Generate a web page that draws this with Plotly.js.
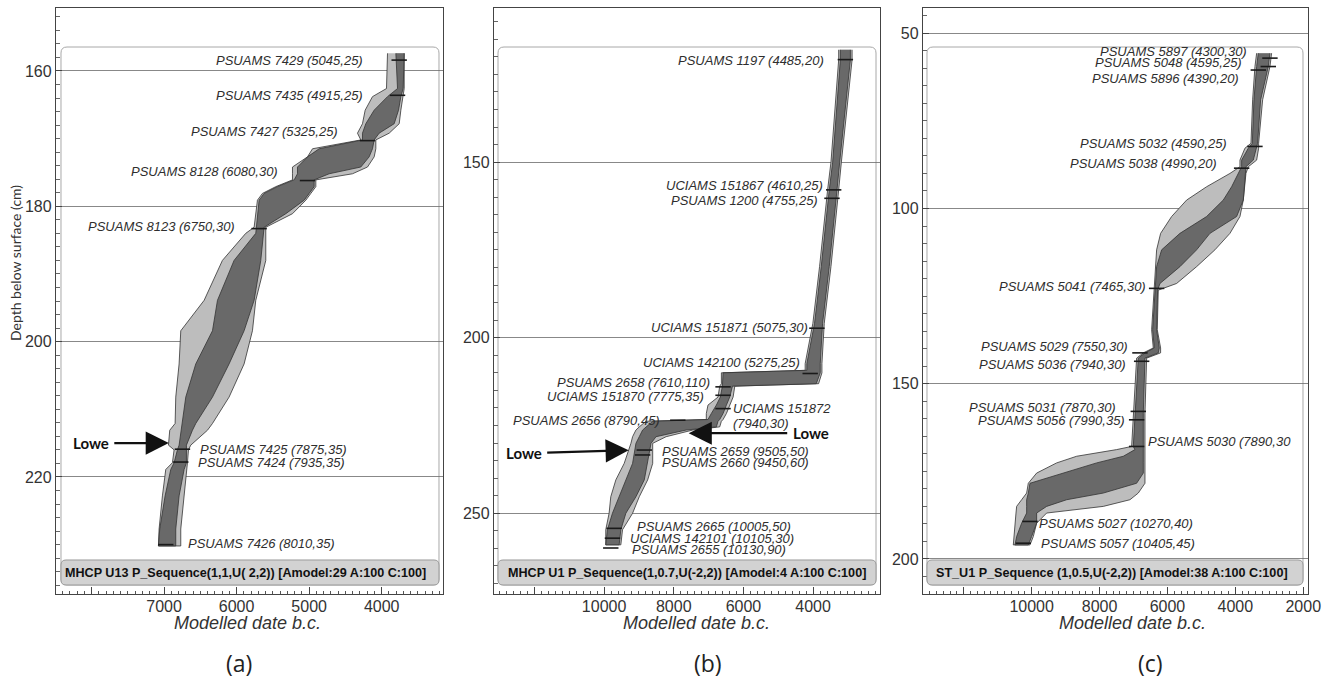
<!DOCTYPE html>
<html>
<head>
<meta charset="utf-8">
<script src="https://cdn.plot.ly/plotly-3.0.1.min.js"></script>
<style>html,body{margin:0;padding:0;background:#fff;}#chart{width:1328px;height:681px;}</style>
</head>
<body>
<div id="chart"></div>
<script>
// ---------------- DATA ----------------
// Panel (a) MHCP U13 : depth (cm) and modelled date envelopes (years b.c.)
const depthA = [157.4,162.6,163.8,165.8,167.8,169.2,170.2,171.5,172.7,174.2,175.2,176.1,177.1,178.1,179.1,181.1,183.1,184.0,188.0,193.9,198.4,203.3,208.2,212.1,213.1,215.3,216.0,217.9,218.9,222.8,227.7,230.2];
const outerOldA = [3920,3934,4127,4228,4265,4334,4288,4954,5023,5230,5230,5230,5460,5644,5713,5736,5759,5874,6196,6448,6770,6793,6839,6848,6922,6940,6862,6885,6977,7023,7069,7078];
const outerYoungA = [3690,3690,3704,3736,3759,3897,4081,4081,4104,4196,4403,4908,4908,4977,5046,5230,5598,5598,5598,5736,5782,5897,6104,6333,6402,6632,6664,6678,6678,6724,6770,6770];
const innerOldA = [3805,3782,3920,4104,4219,4265,4265,4862,5023,5161,5161,5207,5437,5621,5690,5713,5727,5736,6035,6264,6333,6563,6701,6756,6770,6793,6816,6862,6908,6986,7060,7078];
const innerYoungA = [3690,3704,3736,3768,3828,4035,4104,4127,4173,4288,4725,4931,4931,5000,5069,5322,5621,5621,5667,5759,5897,6104,6333,6563,6609,6692,6692,6692,6724,6793,6839,6839];
const smpDateA = [3759,3782,4196,5023,5690,6747,6770,6977];
const smpDepthA = [158.4,163.6,170.3,176.2,183.3,215.9,217.8,230.0];
const labA = ['PSUAMS 7429 (5045,25)','PSUAMS 7435 (4915,25)','PSUAMS 7427 (5325,25)','PSUAMS 8128 (6080,30)','PSUAMS 8123 (6750,30)','PSUAMS 7425 (7875,35)','PSUAMS 7424 (7935,35)','PSUAMS 7426 (8010,35)'];
const labDateA = [4242,4242,4587,5414,6012,6517,6540,6678];
const labDepthA = [158.4,163.6,169.0,174.9,183.0,215.9,217.8,229.8];
const labSideA = ['right','right','right','right','right','left','left','left'];
const xTickValsA = [8000,7000,6000,5000,4000];
const xTickTextA = ['','7000','6000','5000','4000'];

// Panel (b) MHCP U1
const depthB = [118.0,120.8,150.0,157.9,179.7,195.9,207.4,209.3,210.0,213.1,213.8,216.9,219.2,221.6,223.3,223.8,225.4,226.3,228.2,230.1,235.8,240.5,245.3,250.0,254.7,259.0];
const outerOldB = [3266,3266,3487,3584,3814,4007,4228,4228,6633,6633,6681,6729,7018,7066,7066,8798,8990,9086,9182,9230,9423,9663,9808,9856,9952,9952];
const outerYoungB = [2881,2881,3189,3266,3487,3680,3747,3747,3747,3843,6248,6296,6393,6489,6585,6633,6681,7451,8220,8605,8605,8749,8990,9182,9471,9519];
const innerOldB = [3218,3218,3439,3536,3766,3959,4180,4180,6585,6585,6604,6662,6777,6922,7018,8605,8798,8894,8990,9086,9182,9375,9567,9760,9904,9952];
const innerYoungB = [2929,2929,3237,3314,3536,3728,3795,3795,3795,3910,6315,6393,6489,6585,6681,6729,6777,7643,8509,8653,8749,8846,9086,9375,9519,9567];
const smpDateB = [3074,3410,3458,3891,4084,6585,6585,6585,7884,8846,8894,9711,9760,9808];
const smpDepthB = [120.8,157.9,160.3,197.3,210.2,214.0,216.4,220.2,223.5,232.0,233.4,254.3,257.1,259.9];
const labB = ['PSUAMS 1197 (4485,20)','UCIAMS 151867 (4610,25)','PSUAMS 1200 (4755,25)','UCIAMS 151871 (5075,30)','UCIAMS 142100 (5275,25)','PSUAMS 2658 (7610,110)','UCIAMS 151870 (7775,35)','PSUAMS 2656 (8790,45)','UCIAMS 151872','(7940,30)','PSUAMS 2659 (9505,50)','PSUAMS 2660 (9450,60)','PSUAMS 2665 (10005,50)','UCIAMS 142101 (10105,30)','PSUAMS 2655 (10130,90)'];
const labDateB = [3651,3699,3843,4132,4353,6922,7114,8365,6316,6316,8365,8365,9086,9278,9230];
const labDepthB = [121.0,156.6,161.0,197.0,207.1,212.9,216.7,223.5,220.2,224.4,232.5,235.6,253.8,257.1,260.4];
const labSideB = ['right','right','right','right','right','right','right','right','left','left','left','left','left','left','left'];
const xTickValsB = [12000,10000,8000,6000,4000];
const xTickTextB = ['','10000','8000','6000','4000'];

// Panel (c) ST_U1
const depthC = [55.7,59.5,69.0,81.4,82.8,86.2,88.1,90.0,93.8,97.6,102.3,107.1,111.8,116.6,121.4,123.3,134.6,139.8,141.2,142.7,158.4,167.9,168.8,170.7,172.6,175.5,178.4,181.2,183.1,185.0,186.9,189.8,193.6,196.0];
const outerOldC = [3373,3423,3491,3540,3717,3864,3864,4159,4846,5435,5877,6201,6319,6349,6368,6387,6466,6417,6711,6908,7006,7055,7497,8675,9264,9853,10098,10147,10295,10442,10461,10491,10520,10540];
const outerYoungC = [2932,2981,3196,3314,3314,3373,3619,3688,3717,3766,3864,4159,4601,5141,5730,6270,6300,6201,6201,6613,6662,6662,6662,6662,6662,6662,6662,6859,7104,7889,9558,9853,9951,10049];
const innerOldC = [3324,3373,3452,3501,3619,3815,3815,3913,4110,4355,4846,5632,6171,6319,6349,6368,6436,6387,6662,6859,6957,7006,6957,7300,8086,9067,10049,10098,10147,10147,10147,10295,10442,10491];
const innerYoungC = [2981,3030,3255,3344,3373,3472,3688,3717,3737,3766,3962,4748,5141,5632,6220,6290,6319,6240,6270,6662,6711,6711,6711,6711,6711,6711,6908,7889,8969,9558,9853,9853,10000,10098];
const smpDateC = [2981,3030,3324,3423,3815,6319,6810,6760,6859,6908,6908,10049,10245];
const smpDepthC = [57.1,59.5,60.5,82.3,88.5,122.8,141.2,143.6,157.9,160.3,167.9,189.3,195.5];
const labC = ['PSUAMS 5897 (4300,30)','PSUAMS 5048 (4595,25)','PSUAMS 5896 (4390,20)','PSUAMS 5032 (4590,25)','PSUAMS 5038 (4990,20)','PSUAMS 5041 (7465,30)','PSUAMS 5029 (7550,30)','PSUAMS 5036 (7940,30)','PSUAMS 5031 (7870,30)','PSUAMS 5056 (7990,35)','PSUAMS 5030 (7890,30','PSUAMS 5027 (10270,40)','PSUAMS 5057 (10405,45)'];
const labDateC = [3619,3766,3864,4208,4503,6613,7124,7183,7497,7222,6594,9804,9755];
const labDepthC = [55.2,58.4,62.8,81.6,87.1,122.3,139.5,144.6,156.9,160.6,166.5,189.8,195.7];
const labSideC = ['right','right','right','right','right','right','right','right','right','right','left','left','left'];
const xTickValsC = [12000,10000,8000,6000,4000,2000];
const xTickTextC = ['','10000','8000','6000','4000','2000'];

const modelTitles = ['MHCP U13 P_Sequence(1,1,U( 2,2)) [Amodel:29 A:100 C:100]',
                     'MHCP U1 P_Sequence(1,0.7,U(-2,2)) [Amodel:4 A:100 C:100]',
                     'ST_U1 P_Sequence (1,0.5,U(-2,2)) [Amodel:38 A:100 C:100]'];
const panelLetters = ['(a)','(b)','(c)'];
const lowe = 'Lowe';

// ---------------- BUILD ----------------
const W = 1328, H = 681;
const LIGHT = '#bdbdbd', DARK = '#696969', EDGE = '#333333';
const TXT = '#2e2e2e';

function envelope(depth, oldArr, youngArr, color, xa, ya) {
  return {
    type: 'scatter', mode: 'lines', xaxis: xa, yaxis: ya,
    x: oldArr.concat(youngArr.slice().reverse()),
    y: depth.concat(depth.slice().reverse()),
    fill: 'toself', fillcolor: color,
    line: {color: EDGE, width: 0.8}, hoverinfo: 'skip'
  };
}
function samples(d, dep, xa, ya) {
  return {type: 'scatter', mode: 'markers', xaxis: xa, yaxis: ya, x: d, y: dep,
    marker: {symbol: 'line-ew-open', size: 11, color: '#1a1a1a', line: {color: '#1a1a1a', width: 1.6}}, hoverinfo: 'skip'};
}

const traces = [
  envelope(depthA, outerOldA, outerYoungA, LIGHT, 'x', 'y'),
  envelope(depthA, innerOldA, innerYoungA, DARK, 'x', 'y'),
  samples(smpDateA, smpDepthA, 'x', 'y'),
  envelope(depthB, outerOldB, outerYoungB, LIGHT, 'x2', 'y2'),
  envelope(depthB, innerOldB, innerYoungB, DARK, 'x2', 'y2'),
  samples(smpDateB, smpDepthB, 'x2', 'y2'),
  envelope(depthC, outerOldC, outerYoungC, LIGHT, 'x3', 'y3'),
  envelope(depthC, innerOldC, innerYoungC, DARK, 'x3', 'y3'),
  samples(smpDateC, smpDepthC, 'x3', 'y3')
];

const tickFont = {family: 'Liberation Sans, Arial, sans-serif', size: 16, color: '#333'};
function xAxis(domain, range, tv, tt, minorDt, anchor) {
  return {domain: domain, range: range, anchor: anchor, tickmode: 'array', tickvals: tv, ticktext: tt,
    ticks: 'inside', ticklen: 7, tickcolor: '#444', tickwidth: 1, showgrid: false, zeroline: false,
    showline: true, linecolor: '#444', linewidth: 1.2, mirror: true, tickfont: tickFont, ticklabelstandoff: -2,
    minor: {tickmode: 'linear', tick0: 0, dtick: minorDt, ticks: 'inside', ticklen: 3, tickcolor: '#555', showgrid: false}};
}
function yAxis(domain, range, dt, minorDt, anchor) {
  return {domain: domain, range: range, anchor: anchor, tickmode: 'linear', tick0: 0, dtick: dt,
    ticks: 'inside', ticklen: 6, tickcolor: '#444', showgrid: true, gridcolor: '#6a6a6a', gridwidth: 0.8,
    zeroline: false, showline: true, linecolor: '#444', linewidth: 1.2, mirror: true, tickfont: tickFont,
    minor: {tickmode: 'linear', tick0: 0, dtick: minorDt, ticks: 'inside', ticklen: 4, tickcolor: '#666', showgrid: false}};
}
const yDom = [1 - 594 / H, 1 - 8 / H];
const layout = {
  width: W, height: H, margin: {l: 0, r: 0, t: 0, b: 0},
  paper_bgcolor: '#fff', plot_bgcolor: '#fff', showlegend: false,
  xaxis: xAxis([56 / W, 443 / W], [8490, 3155], xTickValsA, xTickTextA, 100, 'y'),
  yaxis: yAxis(yDom, [237.3, 150.7], 20, 2, 'x'),
  xaxis2: xAxis([494 / W, 880 / W], [13160, 2080], xTickValsB, xTickTextB, 200, 'y2'),
  yaxis2: yAxis(yDom, [273.0, 106.1], 50, 5, 'x2'),
  xaxis3: xAxis([923 / W, 1308 / W], [13200, 1860], xTickValsC, xTickTextC, 200, 'y3'),
  yaxis3: yAxis(yDom, [210.0, 42.8], 50, 5, 'x3'),
  shapes: [], annotations: []
};

// rounded boxes (pixel -> paper)
function rr(x0, y0, x1, y1, r) {
  const X = v => (v / W).toFixed(5), Y = v => (1 - v / H).toFixed(5);
  return `M${X(x0 + r)},${Y(y0)} L${X(x1 - r)},${Y(y0)} Q${X(x1)},${Y(y0)} ${X(x1)},${Y(y0 + r)} ` +
         `L${X(x1)},${Y(y1 - r)} Q${X(x1)},${Y(y1)} ${X(x1 - r)},${Y(y1)} L${X(x0 + r)},${Y(y1)} ` +
         `Q${X(x0)},${Y(y1)} ${X(x0)},${Y(y1 - r)} L${X(x0)},${Y(y0 + r)} Q${X(x0)},${Y(y0)} ${X(x0 + r)},${Y(y0)} Z`;
}
const boxes = [[61, 439], [498, 876], [927, 1303]];
const bandCenters = [245, 687, 1112];
const xTitleCenters = [247, 696, 1132];
const letterCenters = [239, 708, 1150];
boxes.forEach((b, i) => {
  layout.shapes.push({type: 'path', xref: 'paper', yref: 'paper', layer: 'below', path: rr(b[0], 47, b[1], 585, 6),
    line: {color: '#a8a8a8', width: 1}, fillcolor: 'rgba(0,0,0,0)'});
  layout.shapes.push({type: 'path', xref: 'paper', yref: 'paper', layer: 'above', path: rr(b[0], 560, b[1], 585, 5),
    line: {color: '#9a9a9a', width: 1}, fillcolor: '#d2d2d2'});
  layout.annotations.push({xref: 'paper', yref: 'paper', x: bandCenters[i] / W, y: 1 - 572.5 / H, text: modelTitles[i],
    showarrow: false, xanchor: 'center', yanchor: 'middle',
    font: {family: 'Liberation Sans, Arial, sans-serif', size: 12.6, color: '#111', weight: 'bold'}});
  layout.annotations.push({xref: 'paper', yref: 'paper', x: xTitleCenters[i] / W, y: 1 - 623 / H, text: 'Modelled date b.c.',
    showarrow: false, xanchor: 'center', yanchor: 'middle',
    font: {family: 'Liberation Sans, Arial, sans-serif', size: 18, color: '#333', style: 'italic'}});
  layout.annotations.push({xref: 'paper', yref: 'paper', x: letterCenters[i] / W, y: 1 - 663 / H, text: panelLetters[i],
    showarrow: false, xanchor: 'center', yanchor: 'middle',
    font: {family: 'Open Sans, Lato, sans-serif', size: 23, color: '#222'}});
});
layout.annotations.push({xref: 'paper', yref: 'paper', x: 15 / W, y: 1 - 263 / H, text: 'Depth below surface (cm)',
  textangle: -90, showarrow: false, xanchor: 'center', yanchor: 'middle',
  font: {family: 'Lato, Open Sans, sans-serif', size: 14, color: '#333'}});

function addLabels(txt, dd, dep, side, xa, ya) {
  txt.forEach((t, i) => {
    layout.annotations.push({xref: xa, yref: ya, x: dd[i], y: dep[i], text: t, showarrow: false,
      xanchor: side[i], yanchor: 'middle', borderpad: 0,
      font: {family: 'Liberation Sans, Arial, sans-serif', size: 13, color: TXT, style: 'italic'}});
  });
}
addLabels(labA, labDateA, labDepthA, labSideA, 'x', 'y');
addLabels(labB, labDateB, labDepthB, labSideB, 'x2', 'y2');
addLabels(labC, labDateC, labDepthC, labSideC, 'x3', 'y3');

// Lowe arrows (head in data coords, tail offset in px)
function loweArrow(xa, ya, x, y, ax, ay) {
  layout.annotations.push({xref: xa, yref: ya, x: x, y: y, ax: ax, ay: ay, text: lowe, showarrow: true,
    arrowhead: 2, arrowsize: 2.1, arrowwidth: 2.2, arrowcolor: '#111', standoff: 0, startstandoff: 4,
    font: {family: 'Lato, Open Sans, sans-serif', size: 15, color: '#111', weight: 'bold'}});
}
loweArrow('x', 'y', 6935, 215.0, -78, 0);
loweArrow('x2', 'y2', 9294, 232.05, -105, 3);
loweArrow('x2', 'y2', 7571, 227.2, 122, 0);

Plotly.newPlot('chart', traces, layout, {staticPlot: true});
</script>
</body>
</html>
